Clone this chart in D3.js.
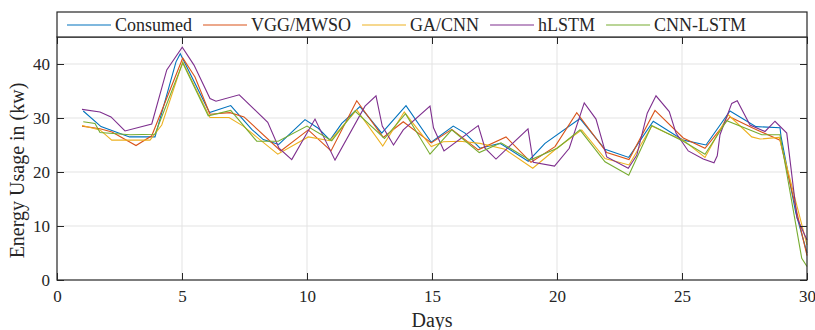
<!DOCTYPE html>
<html>
<head>
<meta charset="utf-8">
<script src="https://cdn.jsdelivr.net/npm/d3@7"></script>
<style>
  body { margin: 0; background: #fff; }
  svg text { font-family: "Liberation Serif", "Times New Roman", serif; fill: #262626; }
</style>
</head>
<body>
<svg id="chart" width="815" height="330"></svg>
<script>
// series as [day, kW]
var consumed = [[1.05,31.3],[1.76,28.4],[2.9,26.5],[3.92,26.5],[4.76,40.4],[4.93,41.9],[6.1,31.0],[6.95,32.3],[7.79,27.9],[8.25,26.0],[8.87,25.1],[9.92,29.7],[10.45,28.1],[10.92,25.9],[11.39,29.0],[12.12,32.1],[12.99,27.2],[13.96,32.3],[14.97,25.5],[15.85,28.5],[16.32,27.2],[16.92,24.4],[17.72,25.3],[18.85,22.0],[19.52,25.3],[20.92,29.9],[21.92,24.2],[22.87,22.7],[23.85,29.4],[25.05,25.9],[25.96,25.0],[26.92,31.3],[27.96,28.4],[28.92,28.2],[28.96,26.6],[29.55,12.5],[30,5.0]];
var vggMwso = [[1,28.5],[1.72,28.0],[2.2,27.4],[3.16,24.9],[3.79,26.7],[5.03,41.1],[5.52,37.6],[6.12,30.7],[6.92,31.0],[7.48,30.2],[8.95,23.9],[10.05,27.8],[10.96,23.9],[11.99,33.2],[13.05,26.4],[13.85,29.3],[14.97,25.4],[15.79,27.9],[16.85,24.1],[17.96,26.5],[18.96,21.8],[19.92,24.7],[20.79,31.0],[21.99,23.6],[22.88,22.3],[23.92,31.4],[25.05,26.3],[25.92,24.4],[26.92,30.2],[27.85,28.1],[28.92,25.9],[30,4.5]];
var gaCnn = [[1,28.6],[1.72,27.8],[2.19,25.9],[3.72,25.9],[4.19,28.7],[5.03,40.4],[6.12,30.1],[6.88,30.1],[7.45,28.5],[8.83,23.3],[10.05,26.5],[10.92,25.8],[11.99,31.5],[13.03,24.8],[13.89,31.1],[14.97,24.7],[15.45,25.6],[16.12,25.7],[16.92,25.3],[17.92,24.2],[19.03,20.7],[19.99,24.4],[20.99,27.8],[21.92,22.5],[22.88,21.3],[23.79,28.5],[24.39,27.2],[25.05,25.9],[25.92,22.7],[26.85,30.6],[27.79,26.5],[28.12,26.1],[28.89,26.4],[30,6.5]];
var hLstm = [[1,31.6],[1.72,31.1],[2.16,30.2],[2.72,27.6],[3.79,28.9],[4.39,38.9],[5.01,43.1],[5.48,39.8],[6.12,33.6],[6.36,33.1],[7.29,34.3],[8.43,29.2],[8.88,24.4],[9.39,22.3],[10.32,29.8],[11.12,22.2],[12.32,32.2],[12.76,34.1],[13.01,28.5],[13.46,25.0],[13.85,27.8],[14.92,32.2],[15.06,28.2],[15.48,23.9],[16.85,28.6],[17.12,24.4],[17.56,22.4],[18.84,28.0],[19.05,21.8],[19.9,21.1],[20.49,24.4],[21.09,32.8],[21.56,29.8],[21.99,22.8],[22.85,20.7],[23.19,23.1],[23.61,30.9],[23.96,34.1],[24.49,31.2],[24.76,27.2],[25.25,23.9],[25.85,22.4],[26.28,21.7],[26.41,23.0],[26.52,26.9],[26.99,32.7],[27.21,33.2],[27.72,28.7],[28.32,27.5],[28.72,29.4],[29.19,27.2],[29.6,11.5],[30,7.4]];
var cnnLstm = [[1.05,29.3],[1.52,29.0],[1.72,27.3],[2.92,26.9],[3.92,27.0],[5.03,40.2],[6.05,30.4],[6.95,31.4],[7.99,25.7],[8.85,25.7],[10.0,28.5],[10.99,25.8],[11.92,31.3],[13.1,26.2],[13.94,30.8],[14.92,23.3],[15.79,27.8],[16.89,23.6],[17.76,25.4],[18.92,22.2],[20.01,24.4],[20.92,27.8],[21.92,21.9],[22.87,19.4],[23.79,28.6],[25.05,25.7],[25.92,23.3],[26.79,29.5],[28.19,26.9],[28.92,26.9],[29.79,4.0],[30,2.5]];

var seriesNames = ["Consumed", "VGG/MWSO", "GA/CNN", "hLSTM", "CNN-LSTM"];
var seriesData = [consumed, vggMwso, gaCnn, hLstm, cnnLstm];
var colors = ["#0072BD", "#D95319", "#EDB120", "#7E2F8E", "#77AC30"];
var xTicks = [0, 5, 10, 15, 20, 25, 30];
var yTicks = [0, 10, 20, 30, 40];

var svg = d3.select("#chart");
var mLeft = 57, mRight = 807, mTop = 37, mBottom = 280;

var x = d3.scaleLinear().domain([0, 30]).range([mLeft, mRight]);
var y = d3.scaleLinear().domain([0, 45]).range([mBottom, mTop]);

// grid
svg.append("g").selectAll("line").data(xTicks.slice(1, -1)).enter().append("line")
    .attr("x1", d => x(d)).attr("x2", d => x(d))
    .attr("y1", mTop).attr("y2", mBottom)
    .attr("stroke", "#e3e3e3").attr("stroke-width", 1);
svg.append("g").selectAll("line").data(yTicks.slice(1)).enter().append("line")
    .attr("x1", mLeft).attr("x2", mRight)
    .attr("y1", d => y(d)).attr("y2", d => y(d))
    .attr("stroke", "#e3e3e3").attr("stroke-width", 1);

// lines
var line = d3.line().x(d => x(d[0])).y(d => y(d[1]));
svg.append("g").selectAll("path").data(seriesData).enter().append("path")
    .attr("d", line)
    .attr("fill", "none")
    .attr("stroke", (d, i) => colors[i])
    .attr("stroke-width", 1.1);

// axes, ticks inside on all four sides
var axisColor = "#262626";
var tickLen = 7;
svg.append("g").attr("transform", "translate(0," + mBottom + ")")
    .call(d3.axisBottom(x).tickValues(xTicks).tickSize(-tickLen).tickPadding(10).tickFormat(d3.format("d")))
    .call(g => g.select(".domain").remove());
svg.append("g").attr("transform", "translate(0," + mTop + ")")
    .call(d3.axisTop(x).tickValues(xTicks).tickSize(-tickLen).tickFormat(""))
    .call(g => g.select(".domain").remove());
svg.append("g").attr("transform", "translate(" + mLeft + ",0)")
    .call(d3.axisLeft(y).tickValues(yTicks).tickSize(-tickLen).tickPadding(7).tickFormat(d3.format("d")))
    .call(g => g.select(".domain").remove());
svg.append("g").attr("transform", "translate(" + mRight + ",0)")
    .call(d3.axisRight(y).tickValues(yTicks).tickSize(-tickLen).tickFormat(""))
    .call(g => g.select(".domain").remove());

svg.selectAll(".tick line").attr("stroke", axisColor);
svg.selectAll(".tick text")
    .style("font-family", "'Liberation Serif', serif")
    .style("font-size", "17px")
    .attr("fill", axisColor);

svg.append("rect")
    .attr("x", mLeft).attr("y", mTop)
    .attr("width", mRight - mLeft).attr("height", mBottom - mTop)
    .attr("fill", "none").attr("stroke", axisColor).attr("stroke-width", 1.2);

// axis labels
svg.append("text")
    .attr("x", (mLeft + mRight) / 2).attr("y", 327)
    .attr("text-anchor", "middle")
    .style("font-size", "20px")
    .text("Days");
svg.append("text")
    .attr("transform", "translate(24," + ((mTop + mBottom) / 2 + 12) + ") rotate(-90)")
    .attr("text-anchor", "middle")
    .style("font-size", "20px")
    .text("Energy Usage in (kw)");

// legend across the top
var legend = svg.append("g");
legend.append("rect")
    .attr("x", mLeft).attr("y", 12)
    .attr("width", mRight - mLeft).attr("height", mTop - 12)
    .attr("fill", "#fff").attr("stroke", axisColor).attr("stroke-width", 1.2);
var cx = 67;
seriesNames.forEach(function(name, i) {
  legend.append("line")
      .attr("x1", cx).attr("x2", cx + 44)
      .attr("y1", 25).attr("y2", 25)
      .attr("stroke", colors[i]).attr("stroke-width", 1.1);
  var t = legend.append("text")
      .attr("x", cx + 48).attr("y", 31)
      .style("font-size", "18px")
      .text(name);
  cx += 48 + t.node().getComputedTextLength() + 11;
});
</script>
</body>
</html>
